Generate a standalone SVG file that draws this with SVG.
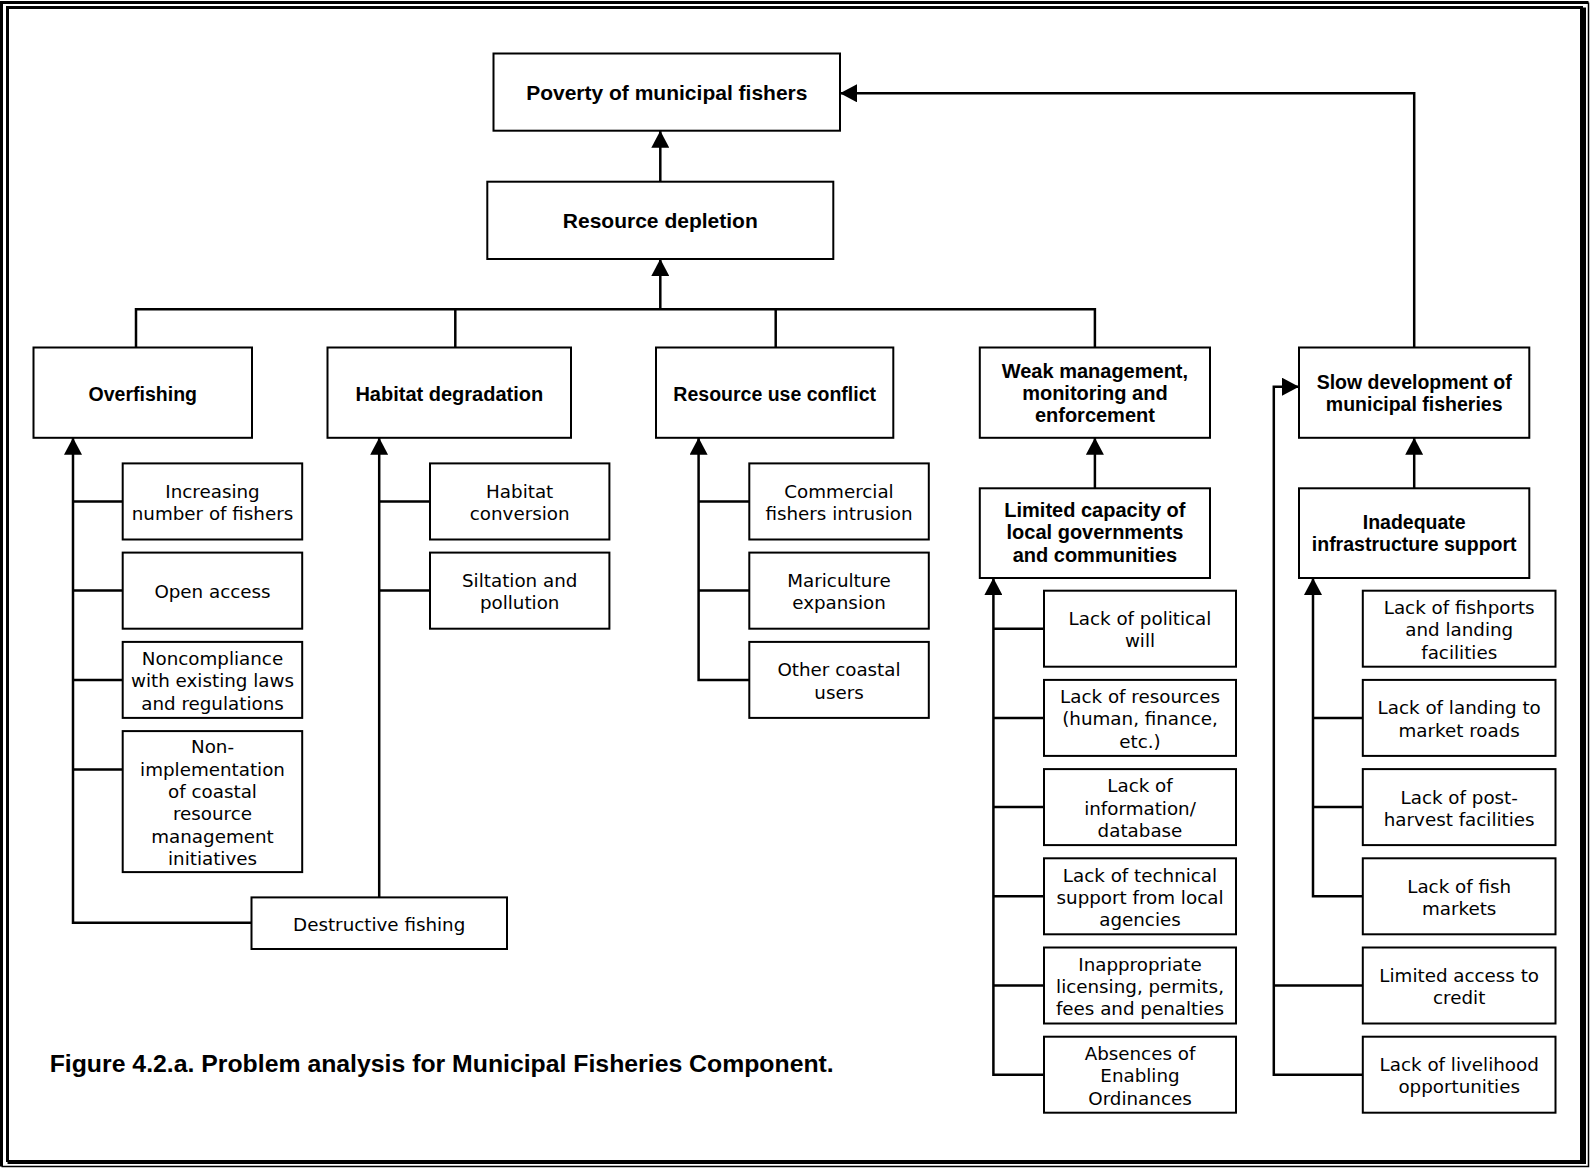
<svg xmlns="http://www.w3.org/2000/svg" width="1590" height="1168" viewBox="0 0 1590 1168">
  <style>
    .box { fill: #fff; stroke: #000; stroke-width: 2; }
    .frame { fill: none; stroke: #000; }
    .wire { fill: none; stroke: #000; stroke-width: 2.5; stroke-linejoin: miter; }
    .arrow { marker-end: url(#ah); }
    .hd { font-family: "Liberation Sans", Arial, sans-serif; font-weight: bold; font-size: 20px; text-anchor: middle; fill: #000; }
    .hd-lg { font-size: 21px; }
    .hd-sm { font-size: 19.5px; }
    .tx { font-family: "DejaVu Sans", "Liberation Sans", sans-serif; font-size: 18.3px; text-anchor: middle; fill: #000; }
    .cap { font-family: "Liberation Sans", Arial, sans-serif; font-weight: bold; font-size: 24.8px; fill: #000; }
  </style>
  <defs>
    <marker id="ah" markerUnits="userSpaceOnUse" markerWidth="18" markerHeight="18" refX="17" refY="9" orient="auto" viewBox="0 0 18 18">
      <path d="M0,0 L17,9 L0,18 Z" fill="#000"/>
    </marker>
  </defs>

  <rect width="1590" height="1168" fill="#fff"/>

  <!-- double page frame -->
  <g id="frame">
    <path class="frame" d="M1.5,1166.5 V2.5 H1588.5" stroke-width="3"/>
    <path class="frame" d="M1588.5,2.5 V1166.5 H1.5" stroke-width="1.5"/>
    <path class="frame" d="M7.5,1162 V7.5 H1583" stroke-width="3"/>
    <path class="frame" d="M1583,7.5 V1162" stroke-width="6"/>
    <path class="frame" d="M7.5,1162 H1586" stroke-width="4"/>
  </g>

  <!-- connectors -->
  <g id="connectors">
    <path class="wire arrow" d="M660.3,181.7 V130.7"/>
    <path class="wire arrow" d="M660.3,309.3 V259"/>
    <path class="wire" d="M136,347.5 V309.3 H1094.9 V347.5"/>
    <path class="wire" d="M455.3,309.3 V347.5"/>
    <path class="wire" d="M775.7,309.3 V347.5"/>
    <path class="wire arrow" d="M1414.2,347.5 V93.3 H840"/>

    <!-- overfishing causes -->
    <path class="wire arrow" d="M251.5,922.7 H73 V437.8"/>
    <path class="wire" d="M73,501.4 H122.7 M73,590.6 H122.7 M73,679.9 H122.7 M73,769.6 H122.7"/>

    <!-- habitat degradation causes -->
    <path class="wire arrow" d="M379.2,897.4 V437.8"/>
    <path class="wire" d="M379.2,501.4 H430 M379.2,590.6 H430"/>

    <!-- resource use conflict causes -->
    <path class="wire arrow" d="M749.3,679.9 H698.6 V437.8"/>
    <path class="wire" d="M698.6,501.4 H749.3 M698.6,590.6 H749.3"/>

    <!-- weak management chain -->
    <path class="wire arrow" d="M1094.9,488.3 V437.8"/>
    <path class="wire arrow" d="M1044,1074.7 H993.4 V578"/>
    <path class="wire" d="M993.4,628.7 H1044 M993.4,717.9 H1044 M993.4,807.1 H1044 M993.4,896.3 H1044 M993.4,985.5 H1044"/>

    <!-- slow development chain -->
    <path class="wire arrow" d="M1414.2,488.3 V437.8"/>
    <path class="wire arrow" d="M1362.8,896.3 H1313 V578"/>
    <path class="wire" d="M1313,717.9 H1362.8 M1313,807.1 H1362.8"/>
    <path class="wire arrow" d="M1362.8,1074.7 H1273.8 V386.7 H1299"/>
    <path class="wire" d="M1273.8,985.5 H1362.8"/>
  </g>

  <!-- top levels -->
  <g id="poverty">
    <rect class="box" x="493.5" y="53.5" width="346.5" height="77.2"/>
    <text class="hd hd-lg" x="666.8" y="100">Poverty of municipal fishers</text>
  </g>
  <g id="depletion">
    <rect class="box" x="487.3" y="181.7" width="346" height="77.3"/>
    <text class="hd hd-lg" x="660.3" y="228">Resource depletion</text>
  </g>

  <!-- main problem areas -->
  <g id="overfishing">
    <rect class="box" x="33.5" y="347.5" width="218.5" height="90.3"/>
    <text class="hd hd-sm" x="142.8" y="400.5">Overfishing</text>
  </g>
  <g id="habitat-degradation">
    <rect class="box" x="327.5" y="347.5" width="243.5" height="90.3"/>
    <text class="hd" x="449.3" y="400.5">Habitat degradation</text>
  </g>
  <g id="resource-use-conflict">
    <rect class="box" x="656" y="347.5" width="237.3" height="90.3"/>
    <text class="hd hd-sm" x="774.7" y="400.5">Resource use conflict</text>
  </g>
  <g id="weak-management">
    <rect class="box" x="979.8" y="347.5" width="230.2" height="90.3"/>
    <text class="hd" x="1094.9" y="377.7"><tspan x="1094.9">Weak management,</tspan><tspan x="1094.9" dy="22.3">monitoring and</tspan><tspan x="1094.9" dy="22.3">enforcement</tspan></text>
  </g>
  <g id="slow-development">
    <rect class="box" x="1299" y="347.5" width="230.3" height="90.3"/>
    <text class="hd hd-sm" x="1414.2" y="388.5"><tspan x="1414.2">Slow development of</tspan><tspan x="1414.2" dy="22.8">municipal fisheries</tspan></text>
  </g>
  <g id="limited-capacity">
    <rect class="box" x="979.8" y="488.3" width="230.2" height="89.7"/>
    <text class="hd" x="1094.9" y="517"><tspan x="1094.9">Limited capacity of</tspan><tspan x="1094.9" dy="22.3">local governments</tspan><tspan x="1094.9" dy="22.3">and communities</tspan></text>
  </g>
  <g id="inadequate-infrastructure">
    <rect class="box" x="1299" y="488.3" width="230.3" height="89.7"/>
    <text class="hd hd-sm" x="1414.2" y="529.1"><tspan x="1414.2">Inadequate</tspan><tspan x="1414.2" dy="22.3">infrastructure support</tspan></text>
  </g>

  <!-- overfishing causes -->
  <g id="increasing-fishers">
    <rect class="box" x="122.7" y="463.4" width="179.5" height="76.1"/>
    <text class="tx" x="212.5" y="497.8"><tspan x="212.5">Increasing</tspan><tspan x="212.5" dy="22.3">number of fishers</tspan></text>
  </g>
  <g id="open-access">
    <rect class="box" x="122.7" y="552.6" width="179.5" height="76.1"/>
    <text class="tx" x="212.5" y="598.2">Open access</text>
  </g>
  <g id="noncompliance">
    <rect class="box" x="122.7" y="641.9" width="179.5" height="76"/>
    <text class="tx" x="212.5" y="665.1"><tspan x="212.5">Noncompliance</tspan><tspan x="212.5" dy="22.3">with existing laws</tspan><tspan x="212.5" dy="22.3">and regulations</tspan></text>
  </g>
  <g id="non-implementation">
    <rect class="box" x="122.7" y="731.1" width="179.5" height="141"/>
    <text class="tx" x="212.5" y="753.4"><tspan x="212.5">Non-</tspan><tspan x="212.5" dy="22.3">implementation</tspan><tspan x="212.5" dy="22.3">of coastal</tspan><tspan x="212.5" dy="22.3">resource</tspan><tspan x="212.5" dy="22.3">management</tspan><tspan x="212.5" dy="22.3">initiatives</tspan></text>
  </g>
  <g id="destructive-fishing">
    <rect class="box" x="251.5" y="897.4" width="255.5" height="51.6"/>
    <text class="tx" x="379.2" y="930.7">Destructive fishing</text>
  </g>

  <!-- habitat degradation causes -->
  <g id="habitat-conversion">
    <rect class="box" x="430" y="463.4" width="179.4" height="76.1"/>
    <text class="tx" x="519.7" y="497.8"><tspan x="519.7">Habitat</tspan><tspan x="519.7" dy="22.3">conversion</tspan></text>
  </g>
  <g id="siltation">
    <rect class="box" x="430" y="552.6" width="179.4" height="76.1"/>
    <text class="tx" x="519.7" y="587"><tspan x="519.7">Siltation and</tspan><tspan x="519.7" dy="22.3">pollution</tspan></text>
  </g>

  <!-- resource use conflict causes -->
  <g id="commercial-intrusion">
    <rect class="box" x="749.3" y="463.4" width="179.5" height="76.1"/>
    <text class="tx" x="839" y="497.8"><tspan x="839">Commercial</tspan><tspan x="839" dy="22.3">fishers intrusion</tspan></text>
  </g>
  <g id="mariculture">
    <rect class="box" x="749.3" y="552.6" width="179.5" height="76.1"/>
    <text class="tx" x="839" y="587"><tspan x="839">Mariculture</tspan><tspan x="839" dy="22.3">expansion</tspan></text>
  </g>
  <g id="other-users">
    <rect class="box" x="749.3" y="641.9" width="179.5" height="76"/>
    <text class="tx" x="839" y="676.3"><tspan x="839">Other coastal</tspan><tspan x="839" dy="22.3">users</tspan></text>
  </g>

  <!-- limited capacity causes -->
  <g id="political-will">
    <rect class="box" x="1044" y="590.7" width="192" height="76"/>
    <text class="tx" x="1140" y="625"><tspan x="1140">Lack of political</tspan><tspan x="1140" dy="22.3">will</tspan></text>
  </g>
  <g id="lack-resources">
    <rect class="box" x="1044" y="679.9" width="192" height="76"/>
    <text class="tx" x="1140" y="703.1"><tspan x="1140">Lack of resources</tspan><tspan x="1140" dy="22.3">(human, finance,</tspan><tspan x="1140" dy="22.3">etc.)</tspan></text>
  </g>
  <g id="lack-information">
    <rect class="box" x="1044" y="769.1" width="192" height="76"/>
    <text class="tx" x="1140" y="792.3"><tspan x="1140">Lack of</tspan><tspan x="1140" dy="22.3">information/</tspan><tspan x="1140" dy="22.3">database</tspan></text>
  </g>
  <g id="technical-support">
    <rect class="box" x="1044" y="858.3" width="192" height="76"/>
    <text class="tx" x="1140" y="881.5"><tspan x="1140">Lack of technical</tspan><tspan x="1140" dy="22.3">support from local</tspan><tspan x="1140" dy="22.3">agencies</tspan></text>
  </g>
  <g id="licensing">
    <rect class="box" x="1044" y="947.5" width="192" height="76"/>
    <text class="tx" x="1140" y="970.7"><tspan x="1140">Inappropriate</tspan><tspan x="1140" dy="22.3">licensing, permits,</tspan><tspan x="1140" dy="22.3">fees and penalties</tspan></text>
  </g>
  <g id="ordinances">
    <rect class="box" x="1044" y="1036.7" width="192" height="76"/>
    <text class="tx" x="1140" y="1059.9"><tspan x="1140">Absences of</tspan><tspan x="1140" dy="22.3">Enabling</tspan><tspan x="1140" dy="22.3">Ordinances</tspan></text>
  </g>

  <!-- slow development causes -->
  <g id="fishports">
    <rect class="box" x="1362.8" y="590.7" width="192.7" height="76"/>
    <text class="tx" x="1459.2" y="613.9"><tspan x="1459.2">Lack of fishports</tspan><tspan x="1459.2" dy="22.3">and landing</tspan><tspan x="1459.2" dy="22.3">facilities</tspan></text>
  </g>
  <g id="market-roads">
    <rect class="box" x="1362.8" y="679.9" width="192.7" height="76"/>
    <text class="tx" x="1459.2" y="714.3"><tspan x="1459.2">Lack of landing to</tspan><tspan x="1459.2" dy="22.3">market roads</tspan></text>
  </g>
  <g id="post-harvest">
    <rect class="box" x="1362.8" y="769.1" width="192.7" height="76"/>
    <text class="tx" x="1459.2" y="803.5"><tspan x="1459.2">Lack of post-</tspan><tspan x="1459.2" dy="22.3">harvest facilities</tspan></text>
  </g>
  <g id="fish-markets">
    <rect class="box" x="1362.8" y="858.3" width="192.7" height="76"/>
    <text class="tx" x="1459.2" y="892.7"><tspan x="1459.2">Lack of fish</tspan><tspan x="1459.2" dy="22.3">markets</tspan></text>
  </g>
  <g id="credit">
    <rect class="box" x="1362.8" y="947.5" width="192.7" height="76"/>
    <text class="tx" x="1459.2" y="981.9"><tspan x="1459.2">Limited access to</tspan><tspan x="1459.2" dy="22.3">credit</tspan></text>
  </g>
  <g id="livelihood">
    <rect class="box" x="1362.8" y="1036.7" width="192.7" height="76"/>
    <text class="tx" x="1459.2" y="1071.1"><tspan x="1459.2">Lack of livelihood</tspan><tspan x="1459.2" dy="22.3">opportunities</tspan></text>
  </g>

  <!-- caption -->
  <text class="cap" x="49.7" y="1072">Figure 4.2.a. Problem analysis for Municipal Fisheries Component.</text>
</svg>
